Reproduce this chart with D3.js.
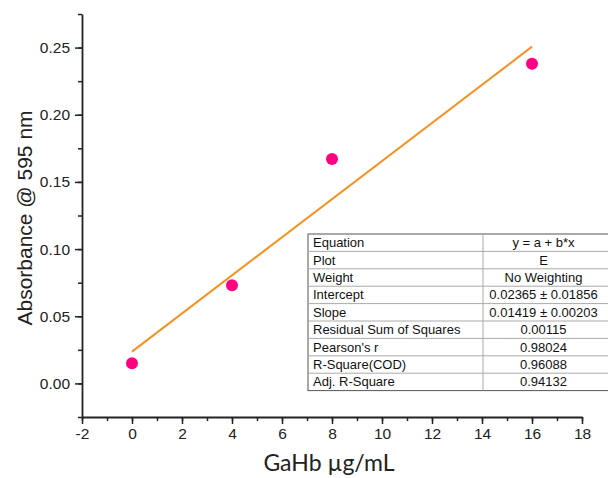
<!DOCTYPE html>
<html>
<head>
<meta charset="utf-8">
<script src="https://cdn.jsdelivr.net/npm/d3@7"></script>
<style>
  body { margin: 0; background: #fff; }
  svg text { font-family: "Liberation Sans", Arial, sans-serif; }
</style>
</head>
<body>
<div id="chart"></div>
<script>
// data
var concentrations = [0, 4, 8, 16];
var absorbances = [0.015, 0.073, 0.167, 0.238];
var fitIntercept = 0.02365;
var fitSlope = 0.01419;
var xTicks = [-2, 0, 2, 4, 6, 8, 10, 12, 14, 16, 18];
var yTicks = [0, 0.05, 0.10, 0.15, 0.20, 0.25];
var statNames = ["Equation", "Plot", "Weight", "Intercept", "Slope",
    "Residual Sum of Squares", "Pearson's r", "R-Square(COD)", "Adj. R-Square"];
var statValues = ["y = a + b*x", "E", "No Weighting", "0.02365 \u00b1 0.01856",
    "0.01419 \u00b1 0.00203", "0.00115", "0.98024", "0.96088", "0.94132"];

var width = 608, height = 478;

var svg = d3.select("#chart").append("svg")
    .attr("width", width)
    .attr("height", height);

var x = d3.scaleLinear().domain([-2, 18]).range([82, 582]);
var y = d3.scaleLinear().domain([-0.025, 0.275]).range([417, 14]);

// ***** AXES *****
var xMinor = d3.range(-2, 18.5, 1);
var yMinor = d3.range(-0.025, 0.276, 0.025);

svg.append("g")
    .attr("transform", "translate(0," + y(-0.025) + ")")
    .call(d3.axisBottom(x).tickValues(xMinor).tickSize(4).tickFormat(""))
    .call(function(g) { g.select(".domain").remove(); });

svg.append("g")
    .attr("transform", "translate(" + x(-2) + ",0)")
    .call(d3.axisLeft(y).tickValues(yMinor).tickSize(4).tickFormat(""))
    .call(function(g) { g.select(".domain").remove(); });

var xAxis = svg.append("g")
    .attr("transform", "translate(0," + y(-0.025) + ")")
    .call(d3.axisBottom(x).tickValues(xTicks).tickSize(7).tickSizeOuter(0).tickPadding(4)
        .tickFormat(d3.format("d")));

var yAxis = svg.append("g")
    .attr("transform", "translate(" + x(-2) + ",0)")
    .call(d3.axisLeft(y).tickValues(yTicks).tickSize(7).tickSizeOuter(0).tickPadding(5)
        .tickFormat(d3.format(".2f")));

svg.selectAll(".tick line").attr("stroke", "#222").attr("stroke-width", 1.5);
svg.selectAll(".domain").attr("stroke", "#222").attr("stroke-width", 1.8);
xAxis.selectAll("text").attr("font-size", 15.5).attr("fill", "#222")
    .text(function(d) { return d < 0 ? "-" + Math.abs(d) : d; });
yAxis.selectAll("text").attr("font-size", 15.5).attr("fill", "#222");

// axis titles
svg.append("text")
    .attr("transform", "translate(32,218) rotate(-90)")
    .attr("text-anchor", "middle")
    .attr("font-size", 21)
    .attr("fill", "#222")
    .text("Absorbance @ 595 nm");

svg.append("text")
    .attr("x", 329)
    .attr("y", 471)
    .attr("text-anchor", "middle")
    .attr("font-size", 23)
    .style("font-family", "Lato, 'Open Sans', sans-serif")
    .attr("fill", "#222")
    .text("GaHb \u00b5g/mL");

// ***** FIT LINE *****
var fitLine = d3.line()
    .x(function(d) { return x(d); })
    .y(function(d) { return y(fitIntercept + fitSlope * d); });

svg.append("path")
    .datum([concentrations[0], concentrations[concentrations.length - 1]])
    .attr("d", fitLine)
    .attr("fill", "none")
    .attr("stroke", "#F7901E")
    .attr("stroke-width", 2);

// ***** POINTS *****
svg.selectAll(".pt")
    .data(concentrations)
    .enter()
    .append("circle")
    .attr("class", "pt")
    .attr("cx", function(d) { return x(d); })
    .attr("cy", function(d, i) { return y(absorbances[i]); })
    .attr("r", 6)
    .attr("fill", "#FF0080");

// ***** STATS TABLE *****
var tLeft = 308, tTop = 234, rowH = 17.4, colSplit = 483, tRight = 612;
var table = svg.append("g");

table.append("rect")
    .attr("x", tLeft).attr("y", tTop)
    .attr("width", tRight - tLeft).attr("height", rowH * statNames.length)
    .attr("fill", "#fff").attr("stroke", "#555").attr("stroke-width", 1);

var rows = table.selectAll(".row")
    .data(statNames)
    .enter()
    .append("g")
    .attr("class", "row")
    .attr("transform", function(d, i) { return "translate(0," + (tTop + i * rowH) + ")"; });

rows.filter(function(d, i) { return i > 0; })
    .append("line")
    .attr("x1", tLeft).attr("x2", tRight)
    .attr("y1", 0).attr("y2", 0)
    .attr("stroke", "#aaa");

rows.append("text")
    .attr("x", tLeft + 5)
    .attr("y", rowH / 2 + 4.5)
    .attr("font-size", 13)
    .attr("fill", "#111")
    .text(function(d) { return d; });

rows.append("text")
    .attr("x", (colSplit + 604) / 2)
    .attr("y", rowH / 2 + 4.5)
    .attr("text-anchor", "middle")
    .attr("font-size", 13)
    .attr("fill", "#111")
    .text(function(d, i) { return statValues[i]; });

table.append("line")
    .attr("x1", colSplit).attr("x2", colSplit)
    .attr("y1", tTop).attr("y2", tTop + rowH * statNames.length)
    .attr("stroke", "#aaa");
</script>
</body>
</html>
